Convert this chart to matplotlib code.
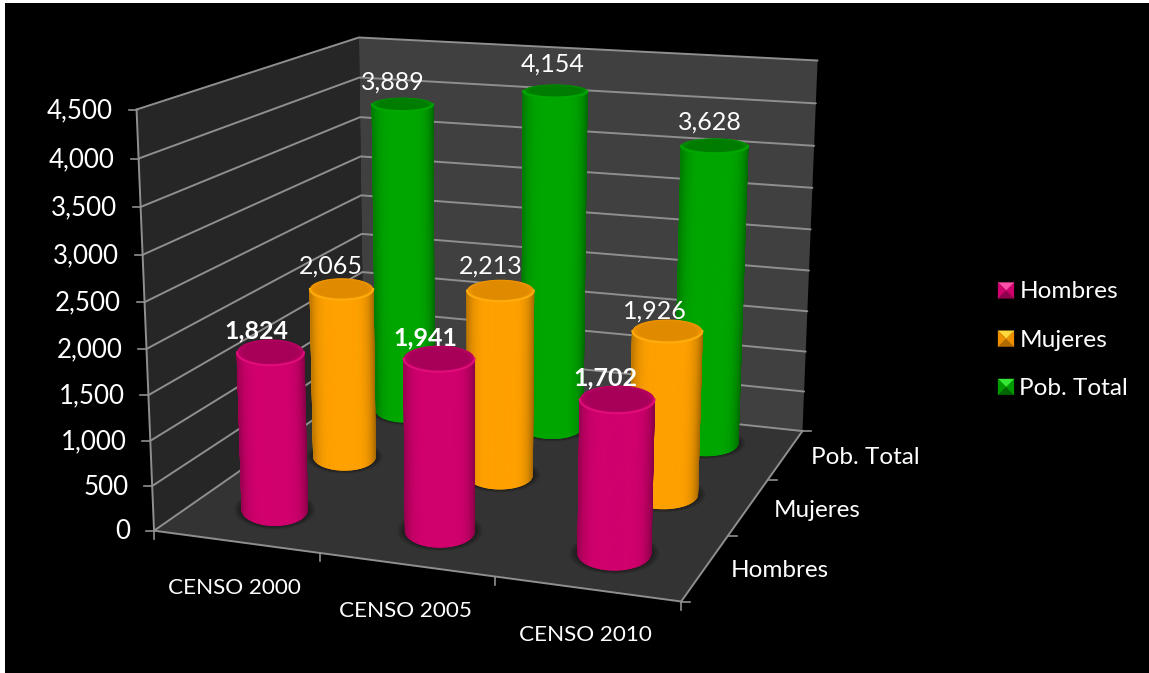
import numpy as np
import matplotlib
matplotlib.use("Agg")
import matplotlib.pyplot as plt
from matplotlib.collections import PolyCollection
from matplotlib.patches import Polygon, Rectangle
from matplotlib.legend_handler import HandlerBase

# ---- data ----
categories = ["CENSO 2000", "CENSO 2005", "CENSO 2010"]
series_names = ["Hombres", "Mujeres", "Pob. Total"]
hombres = [1824, 1941, 1702]
mujeres = [2065, 2213, 1926]
pob_total = [3889, 4154, 3628]
value_ticks = [0, 500, 1000, 1500, 2000, 2500, 3000, 3500, 4000, 4500]
series_values = [hombres, mujeres, pob_total]

# ---- style ----
W, H = 1149, 673
plt.rcParams["font.family"] = ["Lato", "DejaVu Sans"]
BODY = np.array([(0.82, 0.0, 0.43), (1.0, 0.63, 0.0), (0.0, 0.65, 0.0)])
CAP = np.array([(0.65, 0.0, 0.35), (0.88, 0.54, 0.0), (0.0, 0.49, 0.0)])
RIM = np.array([(0.88, 0.05, 0.48), (1.0, 0.68, 0.05), (0.0, 0.66, 0.0)])
KEY_LIGHT = ["#ff4fa8", "#ffd83a", "#35e835"]
KEY_MID = ["#cf006c", "#ee9000", "#009a00"]
KEY_DARK = ["#8e004b", "#b06a00", "#006400"]
VMAX = value_ticks[-1]
RU, RV = 0.068, 0.08  # cylinder radii in box units
BASE_LIFT, TOP_DROP = 2.5, 2.0  # pixels
# small label shifts in pixels (dx, dy), by series then category
NUDGE = [[(-4, 10), (-3, 10), (-1, 10)], [(-1, 8), (0, 6), (-2, 11)], [(-1, 8), (7, 4), (5, 7)]]

# camera calibration: box corners (u, v, w) -> picture pixels
box = np.array([[0, 0, 0], [0, 0, 1], [0, 1, 1], [0, 1, 0], [1, 1, 1], [1, 1, 0], [1, 0, 0]], float)
pix = np.array([[154.3, 531], [136.7, 109], [358.7, 37.7], [363.8, 384.4],
                [817.7, 60.7], [802.7, 430.7], [680.7, 601.7]])
rows = []
for (a, b, c), (x, y) in zip(box, pix):
    rows.append([a, b, c, 1, 0, 0, 0, 0, -x*a, -x*b, -x*c, -x])
    rows.append([0, 0, 0, 0, a, b, c, 1, -y*a, -y*b, -y*c, -y])
P = np.linalg.svd(np.array(rows))[2][-1].reshape(3, 4)


def project(u, v, value):
    u, v, value = np.broadcast_arrays(u, v, np.asarray(value, float) / VMAX)
    q = P @ np.vstack([u.ravel(), v.ravel(), value.ravel(), np.ones(u.size)])
    return np.column_stack([q[0] / q[2], q[1] / q[2]])


def ring(uc, vc, value, scale=1.0, n=121, start=0.0, stop=2 * np.pi, dy=0.0):
    """Upright screen ellipse of a cylinder section at one height."""
    th = np.linspace(start, stop, n)
    cir = project(uc + RU * np.cos(np.linspace(0, 2 * np.pi, 73)),
                  vc + RV * np.sin(np.linspace(0, 2 * np.pi, 73)), value)
    area = 0.5 * abs(np.dot(cir[:-1, 0], cir[1:, 1]) - np.dot(cir[1:, 0], cir[:-1, 1]))
    c = project(uc, vc, value)[0]
    rx = (project(uc + RU, vc, value)[0, 0] - project(uc - RU, vc, value)[0, 0]) / 2
    ry = area / (np.pi * rx)
    return np.column_stack([c[0] + scale * rx * np.cos(th), c[1] + dy + scale * ry * np.sin(th)]), th


fig = plt.figure(figsize=(W / 100, H / 100), dpi=100, facecolor="white")
ax = fig.add_axes([0, 0, 1, 1])
ax.set_xlim(0, W)
ax.set_ylim(H, 0)
ax.axis("off")
ax.add_patch(Rectangle((5, 3), W - 5, H - 3, fc="black", ec="none", zorder=0))

# walls and floor
ax.add_patch(Polygon(project([0, 0, 0, 0], [0, 1, 1, 0], [0, 0, VMAX, VMAX]), fc="#262626", ec="none", zorder=1))
ax.add_patch(Polygon(project([0, 1, 1, 0], [1, 1, 1, 1], [0, 0, VMAX, VMAX]), fc="#404040", ec="none", zorder=1))
ax.add_patch(Polygon(project([0, 1, 1, 0], [0, 0, 1, 1], [0, 0, 0, 0]), fc="#333333", ec="none", zorder=1))

GRID = "#8f8f8f"
for t in value_ticks:
    pts = project([0, 0, 1], [0, 1, 1], [t, t, t])
    ax.plot(pts[:, 0], pts[:, 1], color=GRID, lw=1.4, zorder=2, solid_capstyle="round")
    ax.plot([pts[0, 0] - 8, pts[0, 0]], [pts[0, 1]] * 2, color=GRID, lw=1.2, zorder=2)
    ax.text(pts[0, 0] - 24, pts[0, 1] + 1, f"{t:,}", color="white", fontsize=18.6, ha="right", va="center", zorder=9)
# axis lines
for a, b in [((0, 0, 0), (0, 0, VMAX)), ((0, 0, 0), (1, 0, 0)), ((1, 0, 0), (1, 1, 0))]:
    pts = project(*zip(a, b))
    ax.plot(pts[:, 0], pts[:, 1], color=GRID, lw=1.4, zorder=2)
for k in range(len(categories) + 1):
    p = project(k / 3, 0, 0)[0]
    ax.plot([p[0], p[0]], [p[1], p[1] + 8], color=GRID, lw=1.2, zorder=2)
for k in range(len(series_names) + 1):
    p = project(1, k / 3, 0)[0]
    ax.plot([p[0], p[0] + 9], [p[1], p[1]], color=GRID, lw=1.2, zorder=2)

for i, c in enumerate(categories):
    p = project((i + .5) / 3, 0, 0)[0]
    ax.text(p[0] - 1, p[1] + 46, c, color="white", fontsize=16.2, ha="center", va="center", zorder=9)
for j, s in enumerate(series_names):
    p = project(1, (j + .5) / 3, 0)[0]
    ax.text(p[0] + 25, p[1] + 3, s, color="white", fontsize=17.5, ha="left", va="center", zorder=9)


def cylinder(uc, vc, value, j, z):
    base = BODY[j]
    # soft floor shadow
    for s in np.linspace(1.24, 1.02, 8):
        ax.add_patch(Polygon(ring(uc, vc, 0, s, dy=-BASE_LIFT)[0], fc="black", alpha=.06, ec="none", zorder=z))
    bot, th = ring(uc, vc, 0, start=0, stop=np.pi, dy=-BASE_LIFT)
    top, _ = ring(uc, vc, value, start=0, stop=np.pi, dy=TOP_DROP)
    polys, cols = [], []
    for k in range(len(th) - 1):
        polys.append([bot[k], bot[k + 1], top[k + 1], top[k]])
        ct = np.cos((th[k] + th[k + 1]) / 2)
        edge = 0.64 if ct > 0 else 0.76  # right edge falls darker than left
        f = edge + (1 - edge) * (1 - abs(ct) ** 5)
        cols.append(tuple(f * base))
    ax.add_collection(PolyCollection(polys, facecolors=cols, edgecolors=cols, linewidths=0.6, zorder=z))
    # cap: bright bevel at the rim fading to the darker centre
    for s in np.linspace(1.0, 0.82, 6):
        mix = (1.0 - s) / 0.18
        col = (1 - mix) * (0.5 * base + 0.5 * CAP[j]) + mix * CAP[j]
        ax.add_patch(Polygon(ring(uc, vc, value, s, dy=TOP_DROP)[0], fc=tuple(col), ec="none", zorder=z))
    ax.plot(top[:, 0], top[:, 1], color=tuple(RIM[j]), lw=1.5, zorder=z)


z = 3
for j in range(2, -1, -1):
    for i in range(3):
        cylinder((i + .5) / 3, (j + .5) / 3, series_values[j][i], j, z)
        z += .01

for j in range(3):
    for i in range(3):
        v = series_values[j][i]
        p = project((i + .5) / 3 - 0.02, (j + .5) / 3, v)[0]
        dx, dy = NUDGE[j][i]
        ax.text(p[0] + dx, p[1] - 28 + dy, f"{v:,}", color="white", fontsize=18,
                fontweight="bold" if j == 0 else "normal", ha="center", va="center", zorder=10)


class BevelKey(HandlerBase):
    def __init__(self, j):
        super().__init__()
        self.j = j

    def create_artists(self, legend, orig, x0, y0, w, h, fs, trans):
        j = self.j
        s = 11.5  # points, 16 px at this dpi
        y0 = y0 + (h - s) / 2 - 4
        cx, cy = x0 + s / 2, y0 + s / 2
        a, b, c, d = (x0, y0), (x0 + s, y0), (x0 + s, y0 + s), (x0, y0 + s)
        m = (cx, cy)
        out = []
        for pts, col in [([a, b, m], KEY_DARK[j]), ([b, c, m], KEY_MID[j]),
                         ([c, d, m], KEY_LIGHT[j]), ([d, a, m], KEY_MID[j])]:
            out.append(Polygon(pts, fc=col, ec=col, lw=.2, transform=trans))
        return out


handles = [Rectangle((0, 0), 1, 1, label=s) for s in series_names]
leg = ax.legend(handles=handles, handler_map={h: BevelKey(j) for j, h in enumerate(handles)},
                loc="center left", bbox_to_anchor=(998 / W, 1 - 339 / H), frameon=False,
                fontsize=17.6, labelcolor="white", handlelength=0.65, handleheight=1.0,
                labelspacing=1.02, handletextpad=0.22, borderpad=0, borderaxespad=0)
leg.set_zorder(12)
fig.savefig("out.png", dpi=100, facecolor="white")
